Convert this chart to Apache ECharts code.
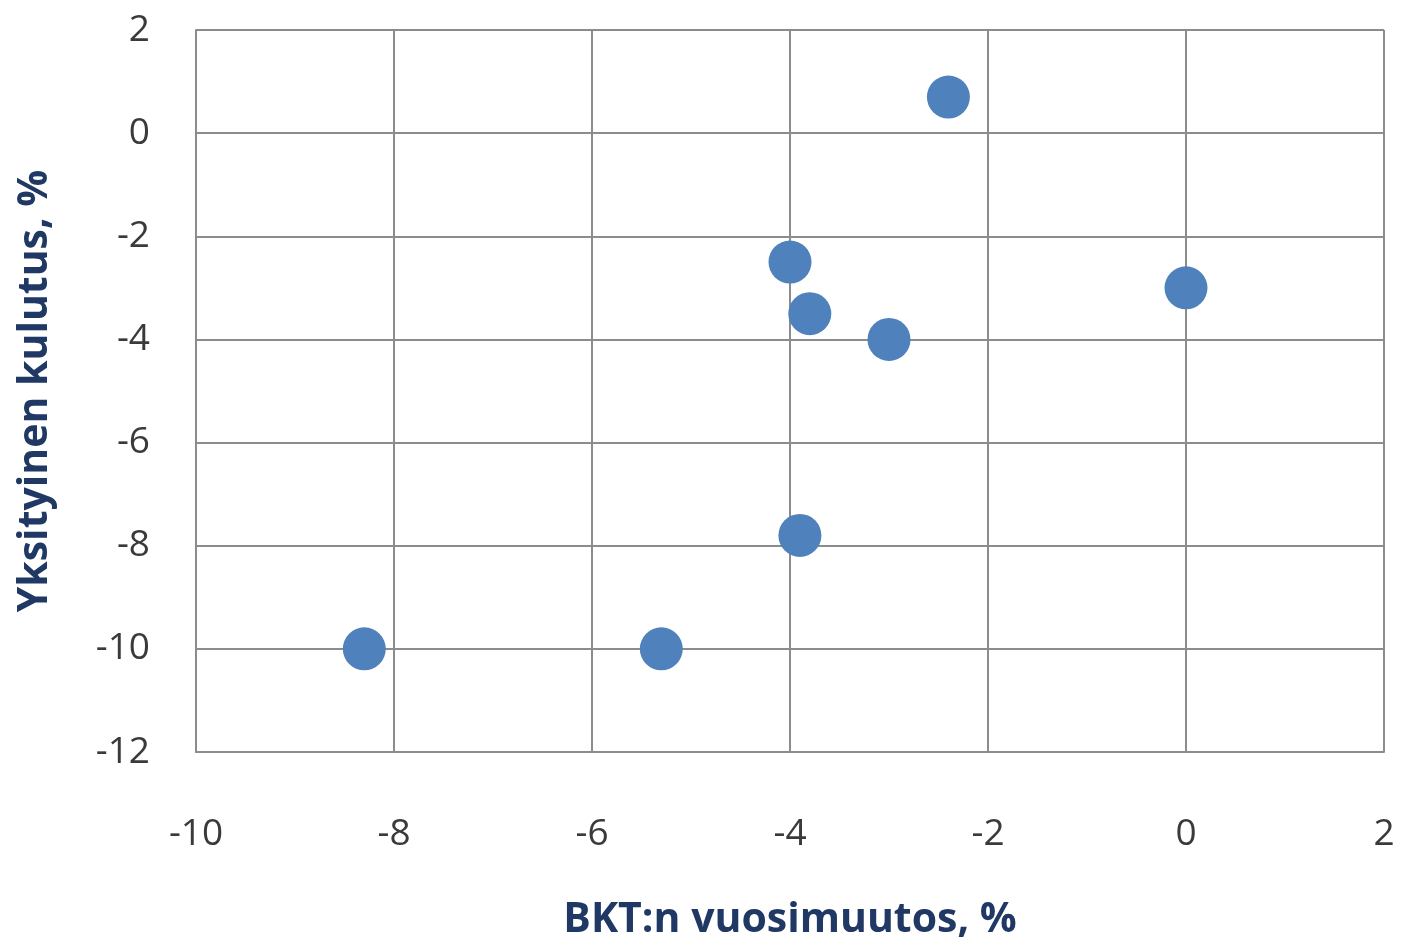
<!DOCTYPE html>
<html><head><meta charset="utf-8">
<script src="https://cdn.jsdelivr.net/npm/echarts@6/dist/echarts.min.js"></script>
<style>html,body{margin:0;padding:0;background:#fff}#c{width:1404px;height:951px}</style>
</head><body><div id="c"></div>
<script>
const gdpChange = [-8.3, -5.3, -3.9, -4.0, -3.8, -3.0, -2.4, 0.0];
const consumption = [-10.0, -10.0, -7.8, -2.5, -3.5, -4.0, 0.7, -3.0];
const xTitle = 'BKT:n vuosimuutos, %';
const yTitle = 'Yksityinen kulutus, %';

const points = gdpChange.map((x, i) => [x, consumption[i]]);
const chart = echarts.init(document.getElementById('c'));
const lbl = {fontFamily: '"Open Sans", sans-serif', fontSize: 37, color: '#3a3a3a'};
const ttl = {fontFamily: '"Open Sans", sans-serif', fontSize: 41, fontWeight: 'bold', color: '#1F3864'};
chart.setOption({
  animation: false,
  grid: {left: 196, right: 20, top: 30, bottom: 199},
  xAxis: {
    type: 'value', min: -10, max: 2, interval: 2,
    name: xTitle, nameLocation: 'middle', nameGap: 148,
    nameTextStyle: ttl,
    axisLine: {show: true, onZero: false, lineStyle: {color: '#8c8c8c', width: 2}},
    axisTick: {show: false},
    axisLabel: Object.assign({margin: 64}, lbl),
    splitLine: {show: true, lineStyle: {color: '#8c8c8c', width: 2}}
  },
  yAxis: {
    type: 'value', min: -12, max: 2, interval: 2,
    name: yTitle, nameLocation: 'middle', nameGap: 140, nameRotate: 90,
    nameTextStyle: ttl,
    axisLine: {show: true, onZero: false, lineStyle: {color: '#8c8c8c', width: 2}},
    axisTick: {show: false},
    axisLabel: Object.assign({margin: 46}, lbl),
    splitLine: {show: true, lineStyle: {color: '#8c8c8c', width: 2}}
  },
  series: [{
    type: 'scatter', data: points, symbolSize: 43,
    itemStyle: {color: '#4F81BD', opacity: 1}
  }]
});
</script></body></html>
